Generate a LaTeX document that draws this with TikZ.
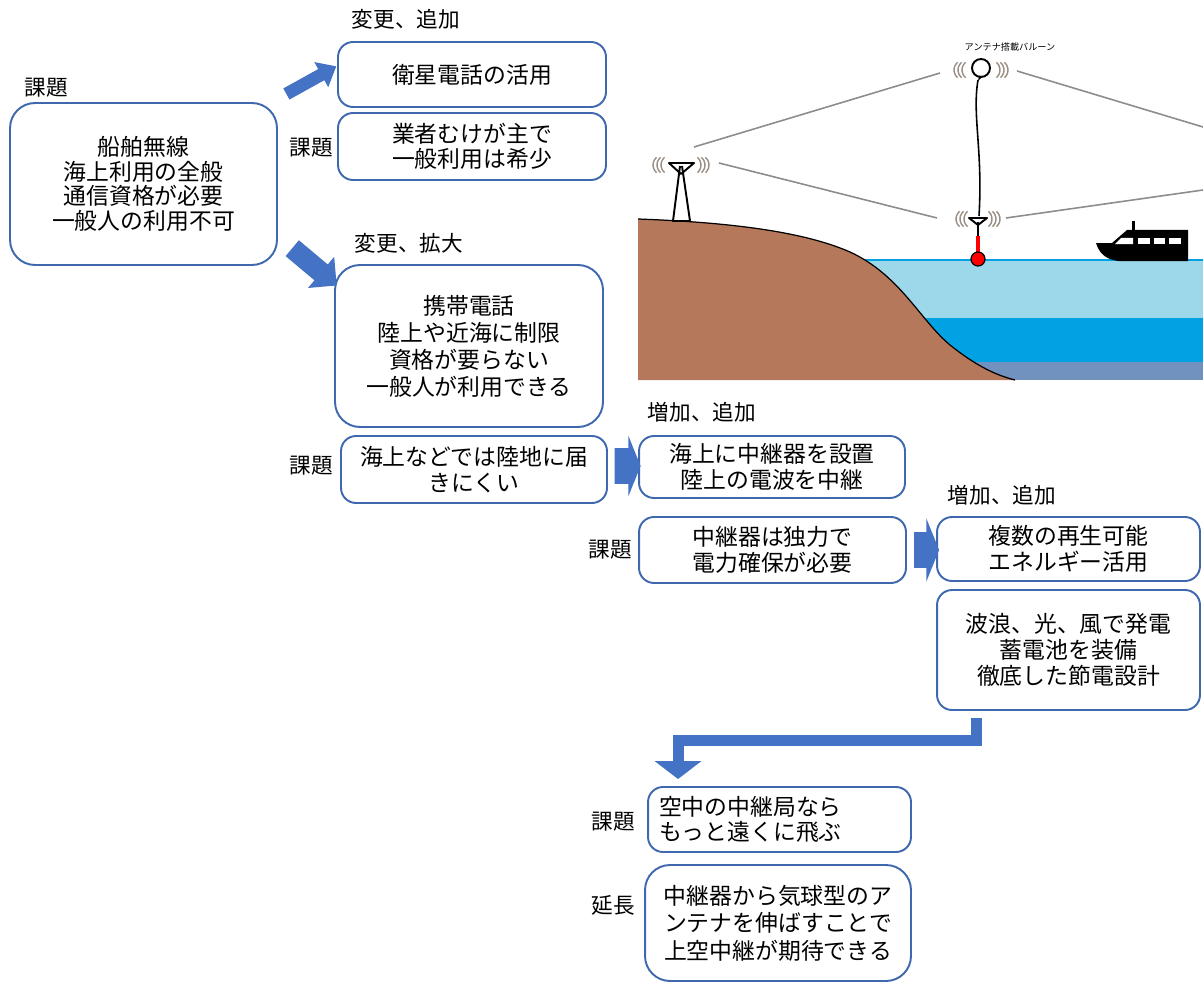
\documentclass[tikz,border=0pt]{standalone}
\usepackage{fontspec}
\setmainfont{Noto Sans CJK JP}
\usetikzlibrary{shapes.arrows,arrows.meta}
\definecolor{framec}{HTML}{3F68AE}
\definecolor{arrowc}{HTML}{4472C4}
\definecolor{groundc}{HTML}{B5785A}
\definecolor{seatopc}{HTML}{9DD8EA}
\definecolor{seamidc}{HTML}{00A2E3}
\definecolor{seadeepc}{HTML}{7191BF}
\definecolor{linkc}{HTML}{8C8C8C}
\definecolor{wavec}{HTML}{9A8E84}
\newcommand\tagtxt{\fontsize{12.3}{14}\selectfont}
\tikzset{
  card/.style={draw=framec, line width=1.1pt, rounded corners=0.3cm, align=center, inner sep=0pt},
  bigcard/.style={card, rounded corners=0.5cm},
  linegap/.style={font=\fontsize{13}{#1}\selectfont},
  linegap/.default=14.5pt,
  tag/.style={font=\tagtxt, inner sep=0pt},
  blockarrow/.style={single arrow, fill=arrowc, inner xsep=0pt, minimum width=0pt},
  elbowarrow/.style={draw=arrowc, line width=0.22cm, line join=miter, -{Triangle[width=0.92cm,length=0.36cm]}},
  link/.style={draw=linkc, line width=0.9pt},
  mast/.style={draw=black, line width=1.1pt, line join=round},
  wave/.style={draw=wavec, line width=0.8pt},
}
% three little arcs each side of an antenna: x, y, gap
\newcommand\sigwaves[3]{%
  \foreach \k in {0,1,2}{
    \draw[wave] ({#1-#3-4*\k+10},#2) ++(130:0.2cm) arc[start angle=130,end angle=230,radius=0.2cm];
    \draw[wave] ({#1+#3+4*\k-10},#2) ++(-50:0.2cm) arc[start angle=-50,end angle=50,radius=0.2cm];
  }%
}

\begin{document}
\begin{tikzpicture}[x=0.02cm,y=-0.02cm]
\useasboundingbox (0,0) rectangle (1203,983);

% sea and coast
\fill[seatopc] (840,260) rectangle (1203,318);
\fill[seamidc] (840,318) rectangle (1203,362);
\fill[seadeepc] (840,362) rectangle (1203,380);
\draw[seamidc, line width=0.8pt] (860,260) -- (1203,260);
\fill[groundc] (638,380) -- (638,219) .. controls (720,222) and (800,230) .. (850,252)
  .. controls (900,275) and (920,320) .. (950,345) .. controls (975,365) and (995,375) .. (1015,380) -- cycle;
\draw[line width=0.7pt] (638,219) .. controls (720,222) and (800,230) .. (850,252)
  .. controls (900,275) and (920,320) .. (950,345) .. controls (975,365) and (995,375) .. (1015,380);

% radio links
\draw[link] (694,147) -- (940,73);
\draw[link] (719,163) -- (937,218);
\draw[link] (1017,71) -- (1203,127);
\draw[link] (1006,218) -- (1203,190);

% shore tower
\draw[mast] (669,163) -- (694,163) -- (681,174) -- cycle;
\draw[mast] (680,166) -- (673,221) -- (690,221) -- (682,166);
\sigwaves{681}{165}{20}

% balloon and tether
\draw[line width=1.1pt] (981,68) circle (0.18cm);
\fill (979,76) -- (983,76) -- (978,81) -- cycle;
\draw[line width=0.9pt] (978,80) .. controls (972,115) and (983,150) .. (979,216);
\sigwaves{981}{70}{19}
\node[font=\fontsize{5.2}{6}\selectfont, inner sep=0pt] (balloontag) at (1010,47) {アンテナ搭載バルーン};

% buoy
\draw[mast] (969,218) -- (987,218) -- (978,225) -- cycle;
\draw[line width=0.8pt] (978,222) -- (978,253);
\draw[red, line width=2.4pt] (978,236) -- (978,253);
\filldraw[fill=red, draw=black, line width=0.7pt] (978,259) circle (0.14cm);
\sigwaves{978}{219}{14}

% boat
\fill (1096,243) -- (1112,243) -- (1127,230) -- (1188,230) -- (1188,261) -- (1118,261)
  .. controls (1104,259) and (1099,252) .. (1096,243) -- cycle;
\fill (1132,221) rectangle (1135,231);
\fill[white] (1121,238) -- (1133,238) -- (1133,244) -- (1115,244) -- cycle;
\fill[white] (1138,238) rectangle (1150,244);
\fill[white] (1154,238) rectangle (1165,244);
\fill[white] (1169,238) rectangle (1181,244);

% flow of cards
\node[bigcard, linegap=14pt, minimum width=5.34cm, minimum height=3.24cm] (ship) at (143.5,184)
  {船舶無線\\海上利用の全般\\通信資格が必要\\一般人の利用不可};
\node[tag] (shiptag) at (46,88) {課題};

\node[card, linegap, minimum width=5.36cm, minimum height=1.30cm] (sat) at (472,74.5) {衛星電話の活用};
\node[tag] (sathead) at (406,19) {変更、追加};
\node[card, linegap, minimum width=5.36cm, minimum height=1.34cm] (satissue) at (472,146.5)
  {業者むけが主で\\一般利用は希少};
\node[tag] (satissuetag) at (311,148) {課題};

\node[bigcard, linegap=15.4pt, minimum width=5.36cm, minimum height=3.24cm] (mobile) at (469,346)
  {携帯電話\\陸上や近海に制限\\資格が要らない\\一般人が利用できる};
\node[tag] (mobilehead) at (409,243) {変更、拡大};
\node[card, linegap, minimum width=5.32cm, minimum height=1.34cm] (coast) at (474,469.5)
  {海上などでは陸地に届\\きにくい};
\node[tag] (coasttag) at (311,466) {課題};

\node[card, linegap, minimum width=5.32cm, minimum height=1.24cm] (relay) at (772,467)
  {海上に中継器を設置\\陸上の電波を中継};
\node[tag] (relayhead) at (702,412) {増加、追加};
\node[card, linegap, minimum width=5.34cm, minimum height=1.32cm] (power) at (772.5,550)
  {中継器は独力で\\電力確保が必要};
\node[tag] (powertag) at (610,550) {課題};

\node[card, linegap, minimum width=5.26cm, minimum height=1.28cm] (renew) at (1068.5,549)
  {複数の再生可能\\エネルギー活用};
\node[tag] (renewhead) at (1002,495) {増加、追加};
\node[card, linegap=14.8pt, minimum width=5.26cm, minimum height=2.40cm] (harvest) at (1068.5,650)
  {波浪、光、風で発電\\蓄電池を装備\\徹底した節電設計};

\node[card, linegap, align=left, text width=4.82cm, inner xsep=0.22cm, minimum height=1.30cm] (sky) at (779.5,819.5)
  {空中の中継局なら\\もっと遠くに飛ぶ};
\node[tag] (skytag) at (613,822) {課題};
\node[bigcard, linegap=15.6pt, minimum width=5.32cm, minimum height=2.32cm] (tether) at (778,923)
  {中継器から気球型のア\\ンテナを伸ばすことで\\上空中継が期待できる};
\node[tag] (tethertag) at (613,905) {延長};

% block arrows between cards
\node[blockarrow, minimum height=1.14cm, inner ysep=0.12cm, single arrow head extend=0.16cm,
  single arrow tip angle=80, rotate=29] (toSat) at (308,82) {};
\node[blockarrow, minimum height=1.16cm, inner ysep=0.2cm, single arrow head extend=0.2cm,
  rotate=-40] (toMobile) at (310.5,263.5) {};
\node[blockarrow, minimum height=0.52cm, inner ysep=0.35cm, single arrow head extend=0.25cm,
  single arrow tip angle=136] (toRelay) at (624,466) {};
\node[blockarrow, minimum height=0.50cm, inner ysep=0.35cm, single arrow head extend=0.28cm,
  single arrow tip angle=136] (toRenew) at (923,550) {};
\draw[elbowarrow, shorten <=0.14cm, shorten >=0.14cm]
  ([xshift=-1.85cm]harvest.south) -- ++(0,29.5) -| ([xshift=-2.03cm]sky.north);
\end{tikzpicture}
\end{document}
